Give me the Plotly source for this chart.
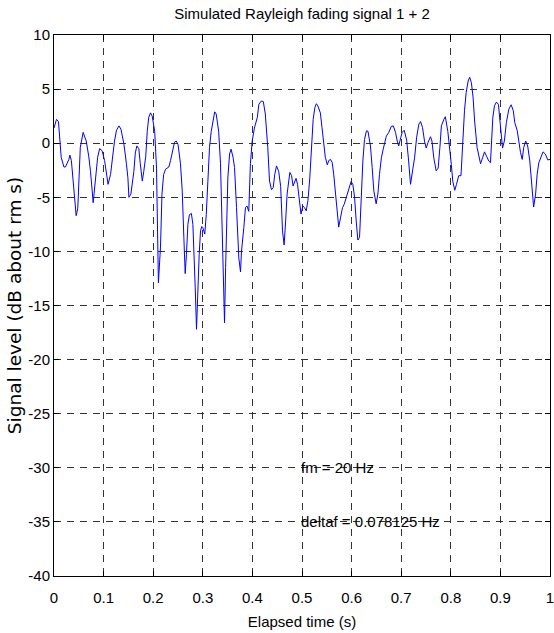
import plotly.graph_objects as go

# Elapsed time (s) and simulated fading envelope (dB about rms)
t = [0.000, 0.005, 0.009, 0.0145, 0.020, 0.023, 0.030, 0.032, 0.035, 0.040,
     0.0447, 0.048, 0.053, 0.0588, 0.065, 0.070, 0.0736, 0.079, 0.0837, 0.088,
     0.092, 0.097, 0.102, 0.106, 0.109, 0.114, 0.117, 0.122, 0.126, 0.131,
     0.135, 0.141, 0.146, 0.149, 0.151, 0.155, 0.161, 0.164, 0.167, 0.171,
     0.174, 0.178, 0.181, 0.185, 0.188, 0.191, 0.1946, 0.198, 0.203, 0.2067,
     0.2105, 0.2147, 0.2177, 0.221, 0.225, 0.2315, 0.235, 0.238, 0.243, 0.2464,
     0.250, 0.255, 0.2585, 0.2618, 0.2645, 0.267, 0.270, 0.273, 0.277, 0.280,
     0.282, 0.2847, 0.2873, 0.290, 0.2927, 0.2954, 0.298, 0.300, 0.304, 0.307,
     0.310, 0.3135, 0.317, 0.321, 0.324, 0.327, 0.332, 0.3357, 0.339, 0.342,
     0.3438, 0.346, 0.3478, 0.3505, 0.354, 0.357, 0.361, 0.364, 0.368, 0.3726,
     0.376, 0.378, 0.3827, 0.386, 0.389, 0.3927, 0.396, 0.3996, 0.404, 0.410,
     0.413, 0.418, 0.422, 0.426, 0.431, 0.4345, 0.4385, 0.442, 0.445, 0.4486,
     0.453, 0.457, 0.4607, 0.464, 0.467, 0.470, 0.4755, 0.479, 0.482, 0.485,
     0.488, 0.491, 0.495, 0.498, 0.5017, 0.505, 0.5085, 0.512, 0.5157, 0.519,
     0.5225, 0.526, 0.529, 0.532, 0.537, 0.5403, 0.544, 0.547, 0.551, 0.554,
     0.5575, 0.561, 0.564, 0.5675, 0.571, 0.574, 0.5776, 0.5817, 0.585, 0.589,
     0.592, 0.5958, 0.599, 0.6025, 0.606, 0.6093, 0.6126, 0.616, 0.619, 0.6227,
     0.626, 0.630, 0.633, 0.638, 0.6415, 0.6448, 0.6495, 0.653, 0.6562, 0.660,
     0.6637, 0.667, 0.670, 0.675, 0.680, 0.684, 0.6885, 0.692, 0.695, 0.699,
     0.702, 0.706, 0.711, 0.715, 0.7188, 0.7234, 0.727, 0.731, 0.7355, 0.739,
     0.743, 0.747, 0.7504, 0.754, 0.759, 0.762, 0.7657, 0.7705, 0.7745, 0.778,
     0.781, 0.786, 0.789, 0.794, 0.798, 0.801, 0.804, 0.808, 0.8115, 0.816,
     0.8205, 0.824, 0.8276, 0.831, 0.835, 0.838, 0.8415, 0.845, 0.848, 0.853,
     0.8565, 0.860, 0.864, 0.868, 0.872, 0.8766, 0.880, 0.882, 0.8847, 0.888,
     0.892, 0.896, 0.899, 0.9016, 0.9043, 0.908, 0.912, 0.917, 0.9217, 0.926,
     0.929, 0.934, 0.937, 0.9405, 0.944, 0.947, 0.951, 0.955, 0.9593, 0.9627,
     0.965, 0.967, 0.971, 0.974, 0.9775, 0.981, 0.986, 0.9906, 0.9956, 1.000]

level = [1.4, 2.2, 2.0, -1.3, -2.2, -2.2, -1.5, -1.1, -1.6, -4.4,
         -6.7, -6.0, -0.4, 1.0, 0.2, -1.2, -2.6, -5.5, -3.2, -1.3,
         -0.5, -0.7, -1.6, -3.2, -3.8, -2.9, -1.6, 0.2, 1.2, 1.6,
         1.3, -0.1, -1.9, -3.2, -5.0, -4.7, -2.6, -0.9, -0.25, -0.5,
         -1.9, -3.5, -2.6, -1.2, 1.1, 2.4, 2.8, 2.5, 1.1, -2.3,
         -12.9, -9.6, -4.7, -2.9, -2.4, -2.2, -1.6, -0.9, 0.1, 0.2,
         -0.1, -1.9, -4.4, -8.7, -12.05, -10.3, -7.5, -6.6, -6.5, -7.5,
         -9.6, -13.3, -17.2, -13.3, -10.3, -8.1, -7.7, -7.8, -8.4, -6.6,
         -3.5, -0.4, 1.1, 2.4, 2.9, 2.7, 1.1, -1.9, -7.5, -13.3,
         -16.6, -11.5, -6.6, -3.2, -1.0, -0.55, -1.3, -2.25, -5.95, -10.6,
         -11.9, -10.0, -7.8, -5.95, -5.8, -6.3, -1.9, 0.2, 1.4, 2.4,
         3.6, 3.9, 3.85, 2.7, -0.4, -3.5, -4.3, -4.1, -2.9, -2.1,
         -2.6, -4.0, -8.1, -9.4, -7.2, -4.7, -2.7, -3.0, -3.95, -3.5,
         -3.25, -3.8, -5.3, -6.55, -5.8, -5.95, -6.25, -5.3, -3.2, -0.1,
         2.2, 3.3, 3.65, 3.45, 2.8, 1.45, -0.1, -1.3, -2.0, -1.6,
         -1.5, -1.8, -2.9, -4.7, -6.25, -7.75, -6.9, -5.95, -5.65, -5.0,
         -4.6, -3.95, -3.55, -3.8, -5.0, -7.2, -8.95, -8.7, -5.3, -1.65,
         0.35, 1.15, 1.1, -0.25, -2.25, -4.4, -5.6, -4.7, -2.9, -1.35,
         -0.55, 0.2, 0.65, 1.0, 1.55, 1.6, 1.0, 0.2, -0.25, 0.5,
         1.0, 1.2, 0.3, -1.65, -3.8, -2.4, -1.35, 0.5, 1.75, 2.0,
         1.45, 0.2, -0.45, 0.05, 0.6, 0.2, -1.35, -2.55, -2.3, -0.4,
         1.6, 2.2, 2.45, 1.1, -0.4, -1.95, -3.5, -4.35, -3.8, -3.0,
         -3.0, 0.2, 3.0, 4.7, 5.75, 6.1, 5.6, 4.2, 2.05, -0.4,
         -1.35, -1.9, -1.35, -0.8, -1.2, -1.65, -1.8, -0.1, 2.35, 3.45,
         3.8, 3.6, 2.05, 0.2, -0.45, 0.2, 1.9, 3.15, 3.55, 3.0,
         1.9, 1.15, 0.2, -0.85, -1.5, -0.4, 0.2, -0.25, -1.65, -3.8,
         -5.3, -5.9, -4.7, -2.9, -1.8, -1.35, -0.8, -1.0, -1.55, -1.5]

x_ticks = [0, 0.1, 0.2, 0.3, 0.4, 0.5, 0.6, 0.7, 0.8, 0.9, 1]
x_tick_text = ["0", "0.1", "0.2", "0.3", "0.4", "0.5", "0.6", "0.7", "0.8", "0.9", "1"]
y_ticks = [10, 5, 0, -5, -10, -15, -20, -25, -30, -35, -40]
y_tick_text = ["10", "5", "0", "-5", "-10", "-15", "-20", "-25", "-30", "-35", "-40"]

notes = ["fm = 20 Hz", "deltaf = 0.078125 Hz"]
note_x = [0.5, 0.5]
note_y = [-30, -35]

SANS = "Liberation Sans, Arial, sans-serif"
FS = 15

fig = go.Figure()
fig.add_trace(go.Scatter(
    x=t, y=level, mode="lines",
    line=dict(color="#0000ff", width=1),
    showlegend=False, hoverinfo="skip",
))

for text, nx, ny in zip(notes, note_x, note_y):
    fig.add_annotation(
        x=nx, y=ny, xref="x", yref="y", text=text, showarrow=False,
        xanchor="left", yanchor="middle", xshift=-3,
        font=dict(family=SANS, size=FS, color="black"),
    )

axis_common = dict(
    showline=True, linecolor="black", linewidth=1, mirror="ticks",
    ticks="inside", ticklen=5, tickcolor="black",
    showgrid=True, gridcolor="#333333", gridwidth=1, griddash="7px,6px",
    zeroline=False, ticklabeloverflow="allow", automargin=False,
    tickfont=dict(family=SANS, size=FS, color="black"),
)

fig.update_xaxes(
    range=[0, 1], tickmode="array", tickvals=x_ticks, ticktext=x_tick_text,
    ticklabelstandoff=8,
    title=dict(text="Elapsed time (s)", font=dict(family=SANS, size=FS, color="black"),
               standoff=11),
    **axis_common,
)
fig.update_yaxes(
    range=[-40, 10], tickmode="array", tickvals=y_ticks, ticktext=y_tick_text,
    title=dict(text="Signal level (dB about rm s)",
               font=dict(family="DejaVu Sans", size=18.5, color="black"), standoff=1),
    **axis_common,
)

fig.update_layout(
    width=554, height=633,
    margin=dict(l=54, r=4, t=35, b=57),
    paper_bgcolor="white", plot_bgcolor="white",
    title=dict(text="Simulated Rayleigh fading signal 1 + 2",
               x=0.5, xref="paper", xanchor="center",
               y=1 - 14 / 633, yanchor="middle",
               font=dict(family=SANS, size=FS, color="black")),
)

fig.write_html("out.html")
